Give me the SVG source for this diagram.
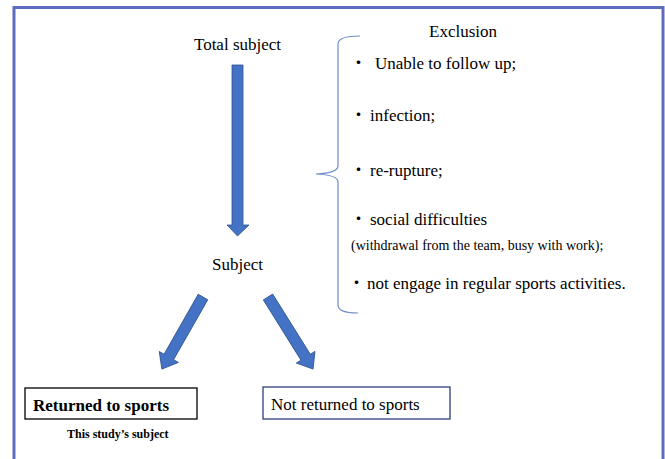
<svg xmlns="http://www.w3.org/2000/svg" width="665" height="459" viewBox="0 0 665 459">
<rect x="0" y="0" width="665" height="459" fill="#fff"/>
<rect x="14" y="7.5" width="649" height="460" fill="none" stroke="#5C6CBE" stroke-width="3"/>
<g id="connectors" fill="#4472C4" stroke="#2F528F" stroke-width="0.8">
<polygon points="232,65 243,65 243,225 249,225 237.5,236 227,225 232,225"/>
<g transform="translate(203,297) rotate(29.7)"><polygon points="-5.5,0 5.5,0 5.5,69 11,69 0,83 -11,69 -5.5,69"/></g>
<g transform="translate(268,297) rotate(-32)"><polygon points="-5.5,0 5.5,0 5.5,71 11,71 0,85 -11,71 -5.5,71"/></g>
<path fill="none" stroke="#6F8CC8" stroke-width="1.2" d="M360,36 Q338,36 338,44 L338,166 Q338,173 316,174 Q338,175 338,182 L338,305 Q338,313 358,313"/>
</g>
<g id="total"><text font-family="Liberation Serif, serif" font-size="17" x="237.5" y="50" text-anchor="middle">Total subject</text></g>
<g id="subject"><text font-family="Liberation Serif, serif" font-size="17" x="237.5" y="270" text-anchor="middle">Subject</text></g>
<g id="exclusion">
<text font-family="Liberation Serif, serif" font-size="17" x="463" y="37" text-anchor="middle">Exclusion</text>
<text font-family="Liberation Serif, serif" font-size="17" y="69"><tspan x="350" font-family="Noto Sans CJK JP, sans-serif">・</tspan><tspan x="375">Unable to follow up;</tspan></text>
<text font-family="Liberation Serif, serif" font-size="17" y="121"><tspan x="350" font-family="Noto Sans CJK JP, sans-serif">・</tspan><tspan x="370">infection;</tspan></text>
<text font-family="Liberation Serif, serif" font-size="17" y="176"><tspan x="350" font-family="Noto Sans CJK JP, sans-serif">・</tspan><tspan x="370">re-rupture;</tspan></text>
<text font-family="Liberation Serif, serif" font-size="17" y="225"><tspan x="350" font-family="Noto Sans CJK JP, sans-serif">・</tspan><tspan x="370">social difficulties</tspan></text>
<text font-family="Liberation Serif, serif" font-size="14" x="351" y="250">(withdrawal from the team, busy with work);</text>
<text font-family="Liberation Serif, serif" font-size="17" y="289"><tspan x="348" font-family="Noto Sans CJK JP, sans-serif">・</tspan><tspan x="367">not engage in regular sports activities.</tspan></text>
</g>
<g id="returned">
<rect x="25" y="388" width="172" height="31" fill="#fff" stroke="#000" stroke-width="1.3"/>
<text font-family="Liberation Serif, serif" font-size="17" font-weight="bold" x="33" y="411">Returned to sports</text>
<text font-family="Liberation Serif, serif" font-size="12" font-weight="bold" x="67" y="438">This study’s subject</text>
</g>
<g id="notreturned">
<rect x="263" y="387" width="187" height="32" fill="#fff" stroke="#2F3F7F" stroke-width="1.3"/>
<text font-family="Liberation Serif, serif" font-size="17" x="271" y="410">Not returned to sports</text>
</g>
</svg>
